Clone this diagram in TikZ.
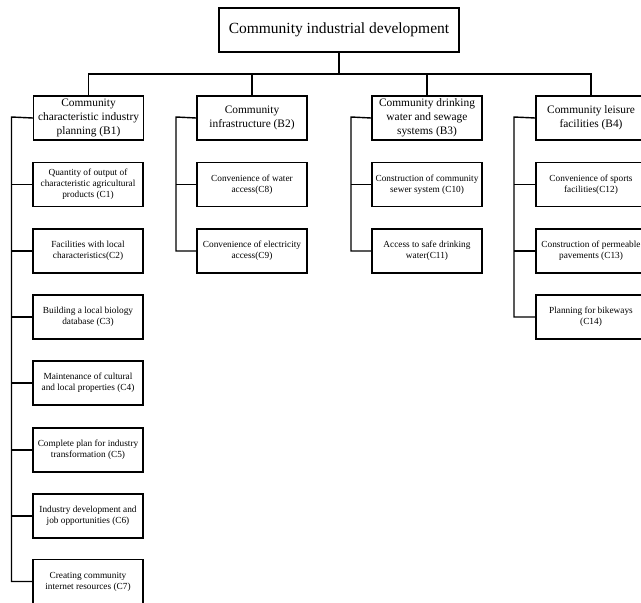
\documentclass[tikz,border=0pt]{standalone}
\usepackage{fontspec}
\setmainfont{Liberation Serif}
\tikzset{
  x=1pt,y=1pt,
  conn/.style={line width=1.4pt},
  topbox/.style={draw,line width=1.4pt,minimum width=240pt,minimum height=44pt,inner sep=0pt,font=\fontsize{15.5}{18}\selectfont},
  bbox/.style={draw,line width=1.4pt,minimum width=110pt,minimum height=44pt,inner sep=0pt,align=center,font=\fontsize{11.4}{14}\selectfont},
  cbox/.style={draw,line width=1.4pt,minimum width=110pt,minimum height=44pt,inner sep=0pt,align=center,font=\fontsize{9.3}{11}\selectfont},
}
\begin{document}
\begin{tikzpicture}
\useasboundingbox (0,0) rectangle (641,-603);
\node[topbox] (A) at (339,-30) {Community industrial development};
\node[bbox] (B1) at (88.5,-118) {Community\\characteristic industry\\planning (B1)};
\node[bbox] (B2) at (252,-118) {Community\\infrastructure (B2)};
\node[bbox] (B3) at (427,-118) {Community drinking\\water and sewage\\systems (B3)};
\node[bbox] (B4) at (591,-118) {Community leisure\\facilities (B4)};
\coordinate (bus) at (0,-74);
% B1 column
\node[cbox] (C1) at (88,-184.5) {Quantity of output of\\characteristic agricultural\\products (C1)};
\node[cbox] (C2) at (88,-251) {Facilities with local\\characteristics(C2)};
\node[cbox] (C3) at (88,-317) {Building a local biology\\database (C3)};
\node[cbox] (C4) at (88,-383) {Maintenance of cultural\\and local properties (C4)};
\node[cbox] (C5) at (88,-450) {Complete plan for industry\\transformation (C5)};
\node[cbox] (C6) at (88,-516) {Industry development and\\job opportunities (C6)};
\node[cbox] (C7) at (88,-581.5) {Creating community\\internet resources (C7)};
% B2 column
\node[cbox] (C8) at (252,-184.5) {Convenience of water\\access(C8)};
\node[cbox] (C9) at (252,-251) {Convenience of electricity\\access(C9)};
% B3 column
\node[cbox] (C10) at (427,-184.5) {Construction of community\\sewer system (C10)};
\node[cbox] (C11) at (427,-251) {Access to safe drinking\\water(C11)};
% B4 column
\node[cbox] (C12) at (591,-184.5) {Convenience of sports\\facilities(C12)};
\node[cbox] (C13) at (591,-251) {Construction of permeable\\pavements (C13)};
\node[cbox] (C14) at (591,-317) {Planning for bikeways\\(C14)};
% spine coordinates
\coordinate (s1) at (11.5,-117);
\coordinate (s2) at (176,-117);
\coordinate (s3) at (351,-117);
\coordinate (s4) at (514,-117);
% top connectors
\draw[conn] (A.south) -- (A.south |- bus);
\draw[conn] (B1.north) -- (B1.north |- bus) -- (B4.north |- bus) -- (B4.north);
\draw[conn] (B2.north) -- (B2.north |- bus);
\draw[conn] (B3.north) -- (B3.north |- bus);
% spines
\draw[conn] (B1.west) -- (s1) |- (C7.west);
\foreach \c in {C1,C2,C3,C4,C5,C6} \draw[conn] (\c.west) -- (\c.west -| s1);
\draw[conn] (B2.west) -- (s2) |- (C9.west);
\draw[conn] (C8.west) -- (C8.west -| s2);
\draw[conn] (B3.west) -- (s3) |- (C11.west);
\draw[conn] (C10.west) -- (C10.west -| s3);
\draw[conn] (B4.west) -- (s4) |- (C14.west);
\foreach \c in {C12,C13} \draw[conn] (\c.west) -- (\c.west -| s4);
\end{tikzpicture}
\end{document}
